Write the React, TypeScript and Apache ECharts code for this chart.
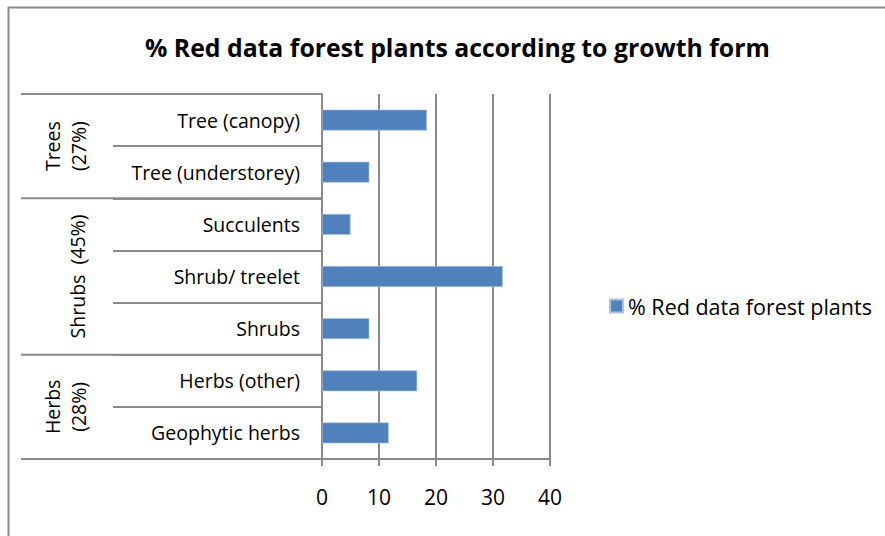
import React, { useEffect, useRef } from "react";
import * as echarts from "echarts";

// Growth forms, top to bottom
const categories = [
  "Tree (canopy)",
  "Tree (understorey)",
  "Succulents",
  "Shrub/ treelet",
  "Shrubs",
  "Herbs (other)",
  "Geophytic herbs",
];
// % of red data forest plants per growth form
const values = [18.4, 8.3, 5.0, 31.7, 8.3, 16.7, 11.7];
// Outer category level: label and the range of inner categories it spans
const groupLabels = ["Trees\n(27%)", "Shrubs  (45%)", "Herbs\n(28%)"];
const groupStarts = [0, 2, 5];
const groupEnds = [1, 4, 6];
const groupLabelX = [65, 77, 65];

const seriesName = "% Red data forest plants";
const titleText = "% Red data forest plants according to growth form";
const xMin = 0;
const xMax = 40;
const xStep = 10;

const FONT = "'Open Sans', Lato, sans-serif";
const GRID_LEFT = 322;
const GRID_TOP = 94;
const GRID_W = 228;
const GRID_H = 365;
const LINE = "#8a8a8a";

export default function App() {
  const ref = useRef<HTMLDivElement>(null);

  useEffect(() => {
    if (!ref.current) return;
    const chart = echarts.init(ref.current, undefined, { renderer: "svg" });
    chart.setOption({
      animation: false,
      backgroundColor: "#ffffff",
      textStyle: { fontFamily: FONT },
      title: {
        text: titleText,
        left: 140,
        top: 29,
        textStyle: { fontFamily: FONT, fontSize: 24.8, fontWeight: "bold", color: "#000" },
      },
      legend: {
        data: [seriesName],
        left: 604,
        top: 290,
        itemWidth: 13,
        itemHeight: 13,
        itemGap: 7,
        icon: "rect",
        textStyle: { fontFamily: FONT, fontSize: 21.5, color: "#000" },
      },
      grid: { left: GRID_LEFT, top: GRID_TOP, width: GRID_W, height: GRID_H, containLabel: false },
      xAxis: {
        type: "value",
        min: xMin,
        max: xMax,
        interval: xStep,
        axisLine: { show: true, lineStyle: { color: LINE, width: 2 } },
        axisTick: { show: true, length: 7, lineStyle: { color: LINE, width: 2 } },
        splitLine: { show: true, lineStyle: { color: LINE, width: 2 } },
        axisLabel: { fontFamily: FONT, fontSize: 21, color: "#000", margin: 27 },
      },
      yAxis: {
        type: "category",
        inverse: true,
        data: categories,
        axisLine: { show: true, lineStyle: { color: LINE, width: 2 } },
        axisTick: { show: true, length: GRID_LEFT - 113, lineStyle: { color: LINE, width: 2 } },
        axisLabel: { fontFamily: FONT, fontSize: 19.5, color: "#000", margin: 22 },
      },
      series: [
        {
          name: seriesName,
          type: "bar",
          data: values,
          barWidth: "40%",
          itemStyle: { color: "#4f81bd", borderColor: "#a9c4e6", borderWidth: 0.6 },
        },
      ],
    });

    // Outer category level: long separators and rotated group labels
    const c0 = chart.convertToPixel({ yAxisIndex: 0 }, 0) as number;
    const c1 = chart.convertToPixel({ yAxisIndex: 0 }, 1) as number;
    const band = c1 - c0;
    const elements: any[] = [
      {
        type: "rect",
        shape: { x: 8.5, y: 7.5, width: 1000, height: 1000 },
        style: { fill: "none", stroke: LINE, lineWidth: 2 },
        silent: true,
      },
    ];
    groupLabels.forEach((label, i) => {
      const yTop = (chart.convertToPixel({ yAxisIndex: 0 }, groupStarts[i]) as number) - band / 2;
      const yBot = (chart.convertToPixel({ yAxisIndex: 0 }, groupEnds[i]) as number) + band / 2;
      if (i === 0) {
        elements.push({
          type: "line",
          shape: { x1: 21, y1: yTop, x2: GRID_LEFT, y2: yTop },
          style: { stroke: LINE, lineWidth: 2 },
        });
      }
      elements.push({
        type: "line",
        shape: { x1: 21, y1: yBot, x2: GRID_LEFT, y2: yBot },
        style: { stroke: LINE, lineWidth: 2 },
      });
      elements.push({
        type: "text",
        x: groupLabelX[i],
        y: (yTop + yBot) / 2,
        rotation: Math.PI / 2,
        style: {
          text: label,
          fontFamily: FONT,
          fontSize: 19.5,
          fill: "#000",
          align: "center",
          verticalAlign: "middle",
          lineHeight: 26,
        },
      });
    });
    chart.setOption({ graphic: elements });

    return () => chart.dispose();
  }, []);

  return (
    <div
      ref={ref}
      style={{ position: "fixed", left: 0, top: 0, width: 885, height: 536 }}
    />
  );
}
